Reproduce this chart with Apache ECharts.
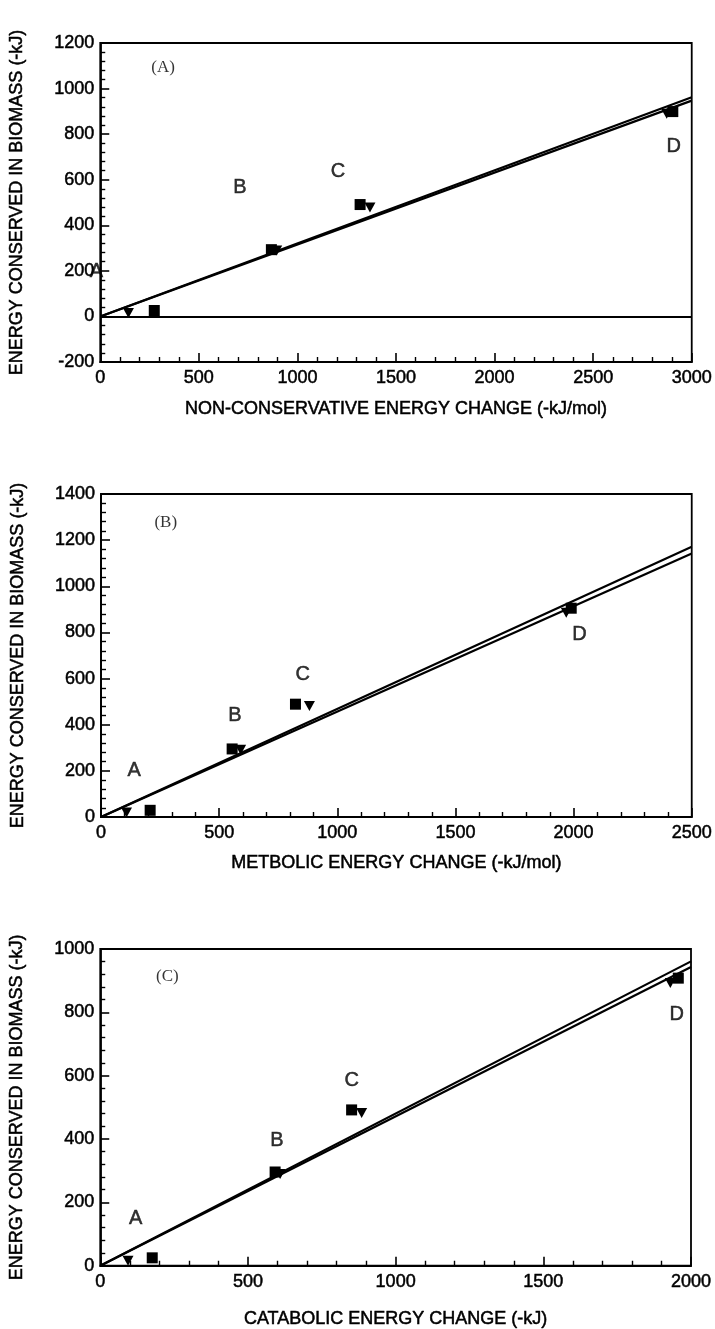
<!DOCTYPE html>
<html>
<head>
<meta charset="utf-8">
<script src="https://cdn.jsdelivr.net/npm/echarts@6/dist/echarts.min.js"></script>
<style>
  html, body { margin: 0; padding: 0; background: #fff; }
  #myChart { width: 715px; height: 1329px; }
</style>
</head>
<body>
<div id="myChart"></div>
<script>
// panel (A): non-conservative energy change
var squaresA = [[274, 26], [868, 293], [1318, 491], [2904, 899]];
var trianglesA = [[143, 15], [895, 289], [1368, 478], [2873, 890]];
var fitA1 = [[0, 0], [3000, 962]];
var fitA2 = [[0, 0], [3000, 947]];
var lettersA = [['A', -20, 196], ['B', 709, 564], ['C', 1206, 634], ['D', 2909, 744]];

// panel (B): metabolic energy change
var squaresB = [[208, 29], [555, 295], [823, 489], [1990, 905]];
var trianglesB = [[108, 19], [591, 292], [882, 481], [1969, 885]];
var fitB1 = [[0, 0], [2500, 1171]];
var fitB2 = [[0, 0], [2500, 1142]];
var lettersB = [['A', 140, 200], ['B', 567, 439], ['C', 854, 619], ['D', 2025, 792]];

// panel (C): catabolic energy change
var squaresC = [[176, 25], [592, 296], [851, 492], [1957, 908]];
var trianglesC = [[94, 16], [609, 290], [885, 482], [1930, 893]];
var fitC1 = [[0, 0], [2000, 961]];
var fitC2 = [[0, 0], [2000, 943]];
var lettersC = [['A', 120, 149], ['B', 598, 395], ['C', 851, 584], ['D', 1952, 793]];

var panelTags = [['(A)', 319, 1091], ['(B)', 274, 1278], ['(C)', 227, 914]];

var yTitle = 'ENERGY CONSERVED IN BIOMASS (-kJ)';
var xTitles = ['NON-CONSERVATIVE ENERGY CHANGE (-kJ/mol)', 'METBOLIC ENERGY CHANGE (-kJ/mol)', 'CATABOLIC ENERGY CHANGE (-kJ)'];
var xTitleGaps = [38, 37, 44];

var font = 'Liberation Sans, Arial, Helvetica, sans-serif';
var ink = '#000';
// slightly heavier text, like the scanned figure
var heavy = { textBorderColor: ink, textBorderWidth: 0.5 };

function plain(v) { return String(v); }

function makeX(idx, max) {
    return {
        type: 'value', gridIndex: idx, min: 0, max: max, interval: 500,
        name: xTitles[idx], nameLocation: 'middle', nameGap: xTitleGaps[idx],
        nameTextStyle: Object.assign({ color: ink, fontSize: 18, fontFamily: font }, heavy),
        axisLine: { onZero: false, lineStyle: { color: ink, width: 1.8 } },
        axisTick: { inside: true, length: 9, lineStyle: { color: ink, width: 1.6 } },
        minorTick: { show: true, splitNumber: 5, length: 5, lineStyle: { color: ink, width: 1.4 } },
        axisLabel: Object.assign({ color: ink, fontSize: 18, fontFamily: font, margin: 7, formatter: plain }, heavy),
        splitLine: { show: false }
    };
}
function makeY(idx, min, max) {
    return {
        type: 'value', gridIndex: idx, min: min, max: max, interval: 200,
        name: yTitle, nameLocation: 'middle', nameGap: 74,
        nameTextStyle: Object.assign({ color: ink, fontSize: 18, fontFamily: font }, heavy),
        axisLine: { onZero: false, lineStyle: { color: ink, width: 1.8 } },
        axisTick: { inside: true, length: 9, lineStyle: { color: ink, width: 1.6 } },
        minorTick: { show: true, splitNumber: 5, length: 5, lineStyle: { color: ink, width: 1.4 } },
        axisLabel: Object.assign({ color: ink, fontSize: 18, fontFamily: font, margin: 6, formatter: plain }, heavy),
        splitLine: { show: false }
    };
}

var series = [];
function addPanel(idx, sq, tri, f1, f2, letters) {
    series.push({
        type: 'line', xAxisIndex: idx, yAxisIndex: idx, data: f1, symbol: 'none',
        lineStyle: { color: ink, width: 2.2 }, silent: true
    });
    series.push({
        type: 'line', xAxisIndex: idx, yAxisIndex: idx, data: f2, symbol: 'none',
        lineStyle: { color: ink, width: 2.2 }, silent: true
    });
    series.push({
        type: 'scatter', xAxisIndex: idx, yAxisIndex: idx, data: sq,
        symbol: 'rect', symbolSize: 11, itemStyle: { color: ink, opacity: 1 }
    });
    series.push({
        type: 'scatter', xAxisIndex: idx, yAxisIndex: idx, data: tri,
        symbol: 'triangle', symbolRotate: 180, symbolSize: [11, 10], itemStyle: { color: ink, opacity: 1 }
    });
    // point letters A-D
    series.push({
        type: 'scatter', xAxisIndex: idx, yAxisIndex: idx, symbolSize: 0, clip: false,
        data: letters.map(function (l) { return { value: [l[1], l[2]], name: l[0] }; }),
        label: Object.assign({
            show: true, position: 'inside', formatter: '{b}',
            color: ink, fontSize: 20, fontFamily: font
        }, heavy)
    });
    var t = panelTags[idx];
    series.push({
        type: 'scatter', xAxisIndex: idx, yAxisIndex: idx, symbolSize: 0,
        data: [{ value: [t[1], t[2]], name: t[0] }],
        label: {
            show: true, position: 'inside', formatter: '{b}',
            color: ink, fontSize: 17, fontFamily: 'Liberation Serif, Times New Roman, serif'
        }
    });
}
addPanel(0, squaresA, trianglesA, fitA1, fitA2, lettersA);
addPanel(1, squaresB, trianglesB, fitB1, fitB2, lettersB);
addPanel(2, squaresC, trianglesC, fitC1, fitC2, lettersC);

// zero reference line in panel (A)
series[0].markLine = {
    silent: true, symbol: 'none', label: { show: false },
    lineStyle: { color: ink, width: 1.8, type: 'solid' },
    data: [{ yAxis: 0 }]
};

var gridStyle = { show: true, borderColor: ink, borderWidth: 1.8, backgroundColor: 'transparent' };
var myChart = echarts.init(document.getElementById('myChart'));
var option = {
    backgroundColor: '#fff',
    animation: false,
    grid: [
        Object.assign({ left: 100, top: 43, width: 592, height: 319 }, gridStyle),
        Object.assign({ left: 101, top: 494, width: 593, height: 323 }, gridStyle),
        Object.assign({ left: 98, top: 949, width: 593, height: 318 }, gridStyle)
    ],
    xAxis: [makeX(0, 3000), makeX(1, 2500), makeX(2, 2000)],
    yAxis: [makeY(0, -200, 1200), makeY(1, 0, 1400), makeY(2, 0, 1000)],
    series: series
};
myChart.setOption(option);
</script>
</body>
</html>
